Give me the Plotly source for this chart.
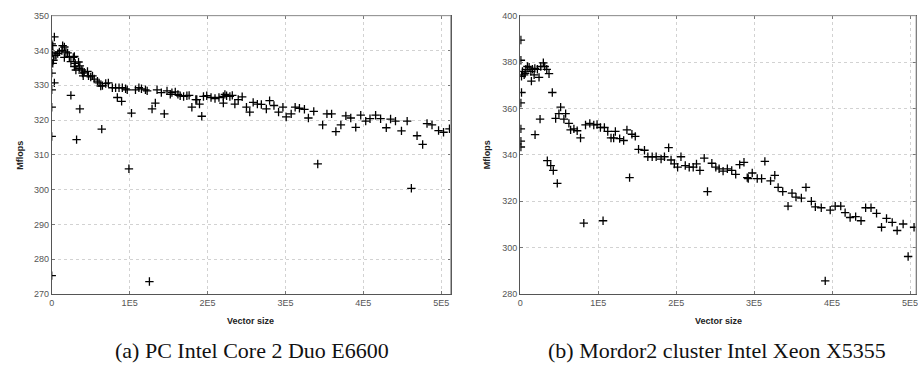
import plotly.graph_objects as go

# ---------------- data ----------------
# (a) PC Intel Core 2 Duo E6600
left_x = [0, 0, 3400, 0, 0, 0, 0, 3400, 1300, 1300, 4200,
          1300, 2200, 5500, 7700, 9800, 13100, 14000, 16200, 18200, 20400,
          16200, 22600, 27700, 29000, 24600, 30200, 34400, 29000, 36100, 35300,
          31000, 38700, 39500, 41700, 40400, 45900, 47200, 50100, 52300, 54500,
          58700, 60800, 62900, 65100, 69300, 72700, 77800, 82000, 86400, 90600,
          94800, 96900, 107500, 111900, 115200, 120300, 122500, 135200, 140700, 148000,
          152200, 154300, 158600, 162000, 164900, 169300, 173500, 176400, 186200, 194800,
          199000, 204500, 209600, 214700, 220300, 224500, 228700,
          24600, 36100, 31900, 64200, 84200, 89700, 102400, 99100, 128800, 133000,
          144500, 179900, 185000, 189700, 192600, 220300, 125400,
          222300, 231800, 235100, 239400, 244500, 250000, 254200, 258600, 264000,
          269100, 275500, 279700, 285300, 291200, 296800, 301000, 307400, 312500, 318000,
          324400, 329500, 336400, 347800, 341500, 353300, 359300, 364800, 371200, 377600,
          383900, 390300, 396700, 403100, 408600, 415800, 422200, 429500, 435000, 441300,
          449000, 456300, 469000, 476200, 481800, 488200, 496600, 503000, 510600, 461700]
left_y = [341.9, 333.5, 330.7, 328.7, 323.7, 315.3, 275.3, 343.9, 341.4, 339.3, 338.6,
          336.3, 337.2, 338.6, 339.1, 339.6, 340.0, 341.4, 341.0, 339.6, 339.3,
          338.0, 338.2, 338.0, 338.3, 336.8, 336.3, 336.7, 335.4, 335.6, 334.9,
          334.4, 334.4, 333.5, 333.8, 332.7, 334.0, 332.7, 332.4, 332.7, 331.8,
          331.2, 330.7, 329.8, 329.9, 330.5, 330.7, 329.3, 329.3, 329.3, 329.3,
          329.0, 328.7, 328.7, 329.3, 329.0, 328.7, 328.4, 328.7, 327.9, 328.4,
          327.4, 327.9, 328.1, 327.4, 327.0, 326.8, 327.0, 327.1, 325.9, 326.8,
          327.0, 326.5, 326.2, 326.5, 326.8, 327.0, 326.8,
          327.1, 323.2, 314.4, 317.4, 326.5, 325.4, 322.0, 306.0, 323.2, 324.9,
          321.8, 323.7, 325.9, 324.6, 321.1, 324.9, 273.6,
          327.4, 327.1, 324.6, 325.9, 326.7, 323.7, 322.3, 325.1, 324.6,
          324.5, 323.2, 325.6, 324.2, 322.3, 323.7, 320.9, 321.8, 323.7, 323.4,
          323.1, 320.6, 322.5, 318.6, 307.4, 321.8, 321.8, 316.7, 318.6, 321.2,
          320.6, 317.9, 321.4, 319.7, 320.4, 321.4, 320.4, 317.8, 320.3, 319.7,
          316.9, 319.7, 315.5, 313.0, 319.0, 318.6, 317.0, 316.5, 317.5, 300.4]

# (b) Mordor2 cluster Intel Xeon X5355
right_x = [900, 900, 900, 900, 900, 900, 1700, 2900, 1700, 5100, 6400,
           7300, 9300, 11500, 13700, 15700, 17900, 18800, 22100, 24200, 26400,
           29700, 31500, 34100, 37000, 14400, 41200, 51900, 49700, 58300, 45500,
           56100, 25500, 62500, 64700, 68900, 73100, 77400, 83800, 89300, 94400,
           98600, 102900, 108000, 112300, 116500, 119900, 122100, 127600, 132700, 136900,
           143300, 147600, 151800, 159400, 19100, 34800, 39200, 42500, 47600, 140300,
           81600, 106300,
           163700, 169300, 174400, 180700, 185000, 190400, 193500, 197700, 201900, 206200,
           211700, 216800, 221900, 226100, 230500, 236000, 240200, 245800, 250900, 255100,
           260200, 265700, 271300, 276400, 281500, 287000, 291200, 292500, 297600, 304000,
           309600, 313800, 321100, 326500, 330800, 336700, 343500, 348600, 353700, 360600,
           366500, 373400, 378500, 386100, 391200, 397600, 404000, 411100, 416700, 423100,
           430200, 437100, 443000, 449900, 457000, 463400, 469800, 477100, 483400, 491100,
           497500, 505100]
right_y = [389.5, 380.8, 362.4, 351.2, 345.9, 343.4, 366.9, 376.0, 373.9, 374.5, 375.2,
           376.9, 378.1, 377.8, 376.0, 376.9, 374.5, 377.3, 376.9, 373.4, 378.1,
           379.7, 378.1, 376.9, 375.0, 371.8, 366.9, 360.6, 357.8, 357.8, 355.7,
           355.4, 355.4, 353.6, 350.8, 351.2, 350.4, 347.3, 352.9, 353.6, 352.9,
           353.1, 351.8, 351.8, 350.1, 347.3, 347.3, 350.1, 347.0, 346.2, 350.8,
           348.9, 348.0, 342.4, 342.0, 348.7, 337.5, 335.4, 333.3, 327.7, 330.2,
           310.6, 311.6,
           339.2, 339.2, 339.2, 338.2, 339.2, 343.1, 337.8, 336.1, 334.7, 339.2,
           335.4, 334.7, 334.7, 336.1, 333.3, 338.6, 324.2, 336.4, 334.7, 334.0,
           333.0, 334.0, 333.3, 331.6, 335.8, 336.8, 330.2, 329.8, 332.2, 329.8,
           329.8, 337.2, 328.8, 331.2, 326.0, 324.2, 317.9, 323.5, 321.8, 321.4,
           326.0, 320.0, 317.6, 317.2, 285.7, 316.2, 317.9, 317.9, 315.1, 313.0,
           313.4, 311.6, 317.2, 317.2, 314.8, 308.8, 312.6, 310.9, 307.4, 310.2,
           296.2, 308.8]

x_tickvals = [0, 100000, 200000, 300000, 400000, 500000]
x_ticktext = ["0", "1E5", "2E5", "3E5", "4E5", "5E5"]
left_yticks = [270, 280, 290, 300, 310, 320, 330, 340, 350]
right_yticks = [280, 300, 320, 340, 360, 380, 400]
captions = ["(a) PC Intel Core 2 Duo E6600", "(b) Mordor2 cluster Intel Xeon X5355"]

# ---------------- figure ----------------
W, H = 918, 374
fig = go.Figure()

marker = dict(symbol="cross-thin", size=6, color="black",
              line=dict(color="black", width=1.3))
fig.add_trace(go.Scatter(x=left_x, y=left_y, mode="markers", marker=marker,
                         xaxis="x", yaxis="y", showlegend=False, hoverinfo="x+y"))
fig.add_trace(go.Scatter(x=right_x, y=right_y, mode="markers", marker=marker,
                         xaxis="x2", yaxis="y2", showlegend=False, hoverinfo="x+y"))

tickfont = dict(family="Liberation Sans", size=9, color="#555")
ydom = [1 - 297 / H, 1 - 11 / H]
common = dict(showline=True, linecolor="#555", linewidth=1, mirror="ticks",
              ticks="inside", ticklen=3, tickcolor="#777",
              showgrid=True, gridcolor="#d2d2d2", griddash="dot", gridwidth=1,
              zeroline=False, tickfont=tickfont, ticklabeloverflow="allow")

fig.update_layout(
    width=W, height=H,
    margin=dict(l=0, r=0, t=0, b=0),
    paper_bgcolor="white", plot_bgcolor="white",
    xaxis=dict(domain=[49 / W, 450 / W], range=[0, 512000], anchor="y",
               tickvals=x_tickvals, ticktext=x_ticktext, **common),
    yaxis=dict(domain=ydom, range=[270, 350], anchor="x",
               tickvals=left_yticks, **common),
    xaxis2=dict(domain=[520 / W, 1.0], range=[0, 507600], anchor="y2",
                tickvals=x_tickvals, ticktext=x_ticktext, **common),
    yaxis2=dict(domain=ydom, range=[280, 400], anchor="x2",
                tickvals=right_yticks, **common),
)

# lighter top/right frame lines
for xr, yr in (("x domain", "y domain"), ("x2 domain", "y2 domain")):
    fig.add_shape(type="line", xref=xr, yref=yr, x0=0, x1=1, y0=1, y1=1,
                  line=dict(color="#aaa", width=1), layer="above")
    fig.add_shape(type="line", xref=xr, yref=yr, x0=1, x1=1, y0=0, y1=1,
                  line=dict(color="#aaa", width=1), layer="above")

title_font = dict(family="Liberation Sans", size=9, color="#222")
yc = 1 - 154 / H
for xpix in (17, 487):
    fig.add_annotation(text="<b>Mflops</b>", xref="paper", yref="paper",
                       x=xpix / W, y=yc, showarrow=False, textangle=-90,
                       font=title_font, xanchor="center", yanchor="middle")
for xpix in (249, 719):
    fig.add_annotation(text="<b>Vector size</b>", xref="paper", yref="paper",
                       x=xpix / W, y=1 - 325 / H, showarrow=False,
                       font=title_font, xanchor="center", yanchor="middle")

cap_font = dict(family="Liberation Serif", size=22, color="#111")
for xpix, txt in zip((250, 718), captions):
    fig.add_annotation(text=txt, xref="paper", yref="paper",
                       x=xpix / W, y=1 - 355 / H, showarrow=False,
                       font=cap_font, xanchor="center", yanchor="middle")

fig.write_html("out.html", config={"displayModeBar": False},
               post_script="document.body.style.margin='0';document.body.style.overflow='hidden';")
